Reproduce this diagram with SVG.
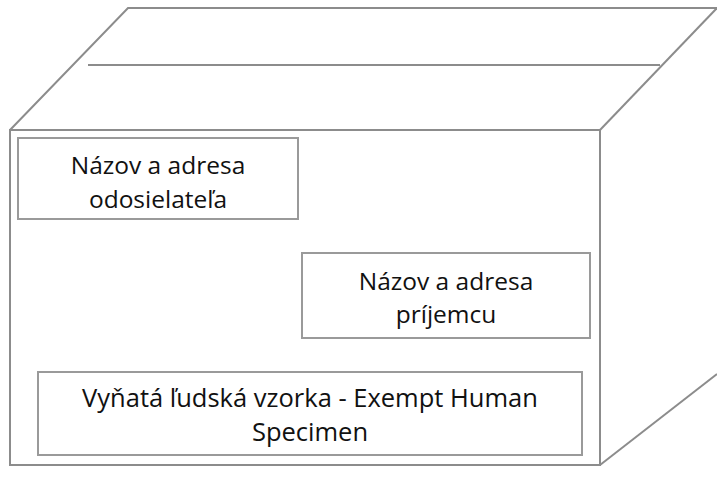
<svg xmlns="http://www.w3.org/2000/svg" width="717" height="495" viewBox="0 0 717 495">
<style>
.edge{fill:none;stroke:#8c8c8c;stroke-width:2}
.box{fill:#fff;stroke:#9a9a9a;stroke-width:2}
.t{font-family:"Open Sans","Noto Sans","Liberation Sans",sans-serif;font-size:24.5px;fill:#111;text-anchor:middle}
.big{font-size:25.5px}
</style>
<rect width="717" height="495" fill="#fff"/>
<g id="box-outline">
<path class="edge" d="M10,130 L128,8 L717,8"/>
<path class="edge" d="M717,8 L600,130"/>
<rect class="edge" x="10" y="130" width="590" height="335"/>
<path class="edge" d="M600,465 L717,374"/>
<path class="edge" d="M88,65 L660,65"/>
</g>
<g id="sender">
<rect class="box" x="18" y="138" width="280" height="81"/>
<text class="t" x="158" y="174">Názov a adresa</text>
<text class="t" x="158" y="208">odosielateľa</text>
</g>
<g id="recipient">
<rect class="box" x="302" y="253" width="288" height="85"/>
<text class="t" x="446" y="290">Názov a adresa</text>
<text class="t" x="446" y="323">príjemcu</text>
</g>
<g id="label">
<rect class="box" x="38" y="372" width="544" height="83"/>
<text class="t big" x="310" y="407">Vyňatá ľudská vzorka - Exempt Human</text>
<text class="t big" x="310" y="441">Specimen</text>
</g>
</svg>
